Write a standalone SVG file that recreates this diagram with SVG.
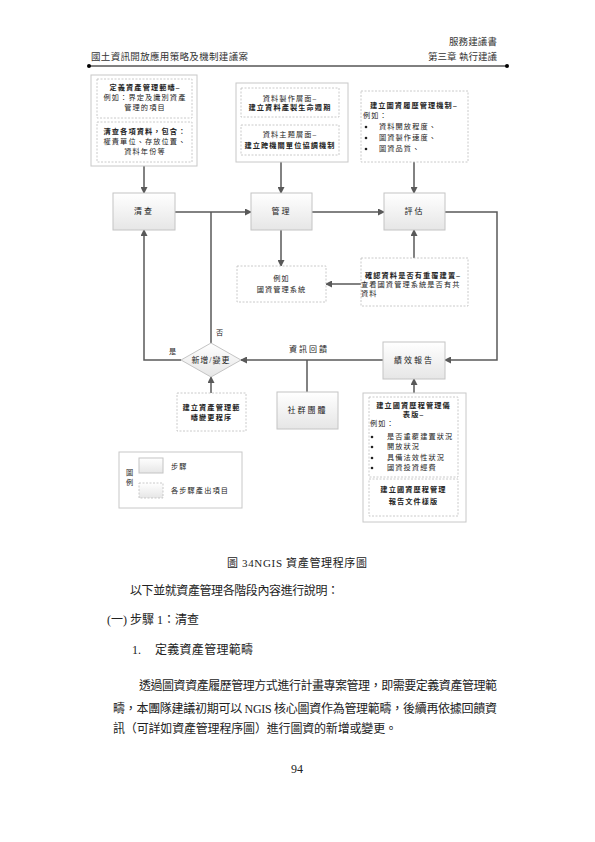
<svg xmlns="http://www.w3.org/2000/svg" width="595" height="842" viewBox="0 0 595 842">
<defs>
<style>
text{font-family:"Liberation Serif","Noto Sans CJK TC",serif;fill:#222;}
.hd{font-size:9.5px;fill:#333;}
.body{font-size:12px;}
.n{font-size:8px;letter-spacing:2px;text-anchor:middle;dominant-baseline:central;}
.t{font-size:7.2px;letter-spacing:1.1px;dominant-baseline:central;}
.tc{text-anchor:middle;}
.b{font-weight:bold;}
.step{fill:url(#g);stroke:#c4c4c4;stroke-width:1;}
.out{fill:#fff;stroke:#c8c8c8;stroke-width:1;}
.dash{fill:#fff;stroke:#bdbdbd;stroke-width:0.8;stroke-dasharray:2,1.5;}
.c{fill:none;stroke:#595959;stroke-width:1.5;}
.a{marker-end:url(#ar);}
</style>
<linearGradient id="g" x1="0" y1="0" x2="0" y2="1">
<stop offset="0" stop-color="#ffffff"/>
<stop offset="1" stop-color="#e6e6e6"/>
</linearGradient>
<marker id="ar" markerUnits="userSpaceOnUse" markerWidth="7" markerHeight="7" refX="6" refY="3.5" orient="auto">
<path d="M0,0 L7,3.5 L0,7 z" fill="#595959"/>
</marker>
</defs>
<rect width="595" height="842" fill="#fff"/>

<g id="header">
<text class="hd" x="497" y="45" text-anchor="end" textLength="48" lengthAdjust="spacing">服務建議書</text>
<text class="hd" x="91" y="60" textLength="157" lengthAdjust="spacing">國土資訊開放應用策略及機制建議案</text>
<text class="hd" x="497" y="60" text-anchor="end">第三章 執行建議</text>
<line x1="89" y1="66" x2="507" y2="66" stroke="#000" stroke-width="1"/>
<circle cx="89" cy="66" r="2" fill="#000"/>
<circle cx="507" cy="66" r="2" fill="#000"/>
</g>

<g id="connectors">
<path class="c a" d="M144,166 V193"/>
<path class="c a" d="M281,162 V193"/>
<path class="c a" d="M414,162 V193"/>
<path class="c a" d="M175,212 H251"/>
<path class="c a" d="M312,212 H384"/>
<path class="c a" d="M445,212 H497 V360 H445"/>
<path class="c a" d="M281,230 V266"/>
<path class="c a" d="M414,258 V230"/>
<path class="c a" d="M361,284 H326"/>
<path class="c" d="M211,343 V212"/>
<path class="c a" d="M181,360 H144 V230"/>
<path class="c a" d="M383,360 H241"/>
<path class="c" d="M307,392 V360"/>
<path class="c a" d="M211,393 V377"/>
<path class="c a" d="M414,393 V379"/>
</g>

<g id="define-scope">
<rect class="out" x="91" y="75" width="106" height="91"/>
<rect class="dash" x="97" y="79" width="95" height="39"/>
<text class="t tc b" x="145" y="88">定義資產管理範疇–</text>
<text class="t tc" x="145" y="98">例如：界定及識別資產</text>
<text class="t tc" x="145" y="108">管理的項目</text>
<rect class="dash" x="97" y="122" width="95" height="40"/>
<text class="t tc b" x="145" y="132">清查各項資料，包含：</text>
<text class="t tc" x="145" y="142">權責單位、存放位置、</text>
<text class="t tc" x="145" y="152">資料年份等</text>
</g>

<g id="data-levels">
<rect class="out" x="236" y="83" width="112" height="79"/>
<rect class="dash" x="241" y="88" width="98" height="29"/>
<text class="t tc" x="290" y="99">資料製作層面–</text>
<text class="t tc b" x="290" y="108">建立資料產製生命週期</text>
<rect class="dash" x="241" y="125" width="98" height="30"/>
<text class="t tc" x="290" y="135">資料主題層面–</text>
<text class="t tc b" x="290" y="146">建立跨機關單位協調機制</text>
</g>

<g id="history-mech">
<rect class="dash" x="361" y="91" width="107" height="71"/>
<text class="t b" x="370" y="106">建立圖資履歷管理機制–</text>
<text class="t" x="363" y="116">例如：</text>
<circle cx="366" cy="127" r="1.3" fill="#222"/>
<text class="t" x="379" y="127">資料開放程度、</text>
<circle cx="366" cy="138" r="1.3" fill="#222"/>
<text class="t" x="379" y="138">圖資製作速度、</text>
<circle cx="366" cy="149" r="1.3" fill="#222"/>
<text class="t" x="379" y="149">圖資品質、</text>
</g>

<g id="inventory">
<rect class="step" x="113" y="193" width="62" height="37"/>
<text class="n" x="144" y="211.5">清查</text>
</g>
<g id="manage">
<rect class="step" x="251" y="193" width="61" height="37"/>
<text class="n" x="281.5" y="211.5">管理</text>
</g>
<g id="evaluate">
<rect class="step" x="384" y="193" width="61" height="37"/>
<text class="n" x="414.5" y="211.5">評估</text>
</g>

<g id="example-system">
<rect class="dash" x="237" y="266" width="89" height="36"/>
<text class="t tc" x="281.5" y="279">例如</text>
<text class="t tc" x="281.5" y="290">國資管理系統</text>
</g>

<g id="check-duplicate">
<rect class="dash" x="361" y="258" width="107" height="48"/>
<text class="t b" x="365" y="276">確認資料是否有重覆建置–</text>
<text class="t" x="361" y="285">查看國資管理系統是否有共</text>
<text class="t" x="361" y="294">資料</text>
</g>

<g id="decision">
<polygon points="211,343 241,360 211,377 181,360" fill="url(#g)" stroke="#c4c4c4" stroke-width="1"/>
<text class="n" x="211" y="360" style="letter-spacing:1px">新增/變更</text>
<text class="t" x="216" y="333">否</text>
<text class="t" x="169" y="352">是</text>
</g>

<g id="feedback-label">
<text class="n" x="309" y="349">資訊回饋</text>
</g>

<g id="report">
<rect class="step" x="383" y="342" width="62" height="37"/>
<text class="n" x="414" y="360.5">績效報告</text>
</g>

<g id="community">
<rect class="step" x="277" y="392" width="61" height="37"/>
<text class="n" x="307.5" y="410.5">社群團體</text>
</g>

<g id="change-procedure">
<rect class="dash" x="177" y="393" width="69" height="38"/>
<text class="t tc b" x="211.5" y="408">建立資產管理範</text>
<text class="t tc b" x="211.5" y="418">疇變更程序</text>
</g>

<g id="dashboard">
<rect class="out" x="363" y="393" width="103" height="129"/>
<rect class="dash" x="369" y="397" width="89" height="80"/>
<text class="t tc b" x="413.5" y="406">建立國資歷程管理儀</text>
<text class="t tc b" x="413.5" y="415">表版–</text>
<text class="t" x="370" y="424">例如：</text>
<circle cx="372" cy="437" r="1.3" fill="#222"/>
<text class="t" x="387" y="437">是否重覆建置狀況</text>
<circle cx="372" cy="447" r="1.3" fill="#222"/>
<text class="t" x="387" y="447">開放狀況</text>
<circle cx="372" cy="458" r="1.3" fill="#222"/>
<text class="t" x="387" y="458">具備法效性狀況</text>
<circle cx="372" cy="468" r="1.3" fill="#222"/>
<text class="t" x="387" y="468">國資投資經費</text>
<rect class="dash" x="369" y="479" width="89" height="37"/>
<text class="t tc b" x="413.5" y="490">建立國資歷程管理</text>
<text class="t tc b" x="413.5" y="502">報告文件樣版</text>
</g>

<g id="legend">
<rect x="119" y="452" width="123" height="56" fill="#fff" stroke="#c8c8c8" stroke-width="1"/>
<text class="t" x="126" y="473">圖</text>
<text class="t" x="126" y="483">例</text>
<rect class="step" x="139" y="458" width="24" height="15"/>
<text class="t" x="171" y="467">步驟</text>
<rect x="139" y="483" width="24" height="15" fill="url(#g)" stroke="#bdbdbd" stroke-width="0.8" stroke-dasharray="2,1.5"/>
<text class="t" x="171" y="491">各步驟產出項目</text>
</g>

<g id="text-body">
<text x="227" y="567" style="font-size:11px" textLength="140" lengthAdjust="spacing">圖 34NGIS 資產管理程序圖</text>
<text class="body" x="130" y="595" textLength="209" lengthAdjust="spacing">以下並就資產管理各階段內容進行說明：</text>
<text class="body" x="107" y="624">(一) 步驟 1：清查</text>
<text class="body" x="132" y="654">1.</text>
<text class="body" x="155" y="654" textLength="98" lengthAdjust="spacing">定義資產管理範疇</text>
<text class="body" x="139" y="690" textLength="358" lengthAdjust="spacing">透過圖資資產履歷管理方式進行計畫專案管理，即需要定義資產管理範</text>
<text class="body" x="113" y="713" textLength="384" lengthAdjust="spacing">疇，本團隊建議初期可以 NGIS 核心圖資作為管理範疇，後續再依據回饋資</text>
<text class="body" x="113" y="733" textLength="284" lengthAdjust="spacing">訊（可詳如資產管理程序圖）進行圖資的新增或變更。</text>
<text class="body" x="297" y="773" text-anchor="middle">94</text>
</g>
</svg>
